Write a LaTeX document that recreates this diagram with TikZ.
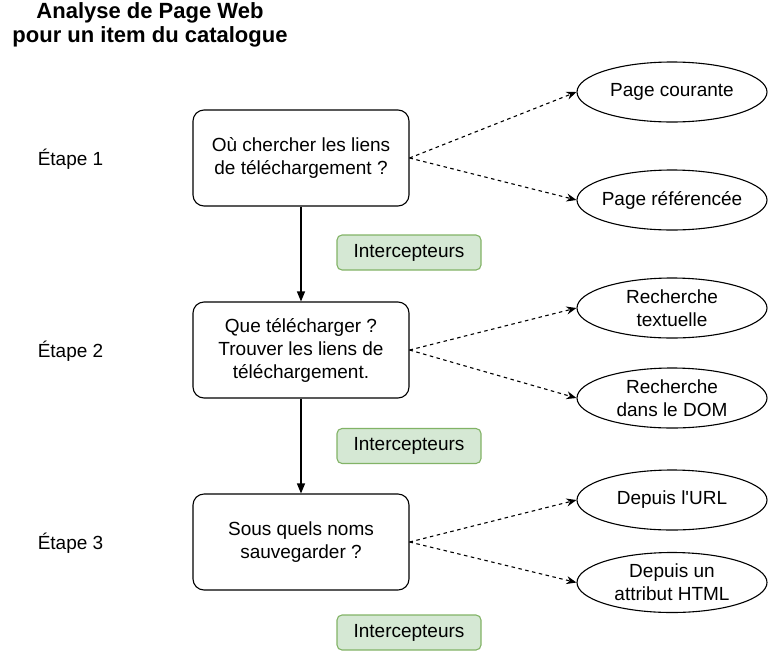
\documentclass[tikz,border=0pt]{standalone}
\usepackage{fontspec}
\setmainfont{Liberation Sans}
\usetikzlibrary{arrows.meta,shapes.geometric}
\definecolor{vertfond}{HTML}{D5E8D4}
\definecolor{vertbord}{HTML}{82B366}

\begin{document}
\begin{tikzpicture}[x=1pt,y=-1pt,line width=1.1pt,
    font=\fontsize{19}{23}\selectfont,
    question/.style={draw,rounded corners=11pt,minimum width=216pt,minimum height=96pt,align=center,inner sep=0pt},
    reponse/.style={draw,ellipse,minimum width=190pt,minimum height=60pt,align=center,inner xsep=-10pt,inner ysep=-8pt},
    intercep/.style={draw=vertbord,fill=vertfond,rounded corners=5pt,minimum width=144pt,minimum height=35pt,inner sep=0pt},
    suite/.style={-{Triangle[length=10pt,width=8pt]}},
    option/.style={dash pattern=on 3.5pt off 3.5pt,-{Stealth[length=10pt,width=8pt]}}]
    \useasboundingbox (0,0) rectangle (770,651);
    \node[anchor=base,font=\fontsize{22}{24}\selectfont\bfseries] (t1) at (150, 18) {Analyse de Page Web};
    \node[anchor=base,font=\fontsize{22}{24}\selectfont\bfseries] (t2) at (150, 42) {pour un item du catalogue};
    \node (s1) at (70.5, 159) {Étape 1};
    \node (s2) at (70.5, 351) {Étape 2};
    \node (s3) at (70.5, 543) {Étape 3};
    \node[question] (q1) at (301, 158) {Où chercher les liens\\de téléchargement ?};
    \node[question] (q2) at (301, 350) {Que télécharger ?\\Trouver les liens de\\téléchargement.};
    \node[question] (q3) at (301, 542) {Sous quels noms\\sauvegarder ?};
    \node[intercep] (i1) at (409, 252.5) {Intercepteurs};
    \node[intercep] (i2) at (409, 446) {Intercepteurs};
    \node[intercep] (i3) at (409, 632.5) {Intercepteurs};
    \node[reponse] (p1) at (672, 92) {Page courante};
    \node[reponse] (p2) at (672, 200) {Page référencée};
    \node[reponse] (p3) at (672, 308) {Recherche\\textuelle};
    \node[reponse] (p4) at (672, 398) {Recherche\\dans le DOM};
    \node[reponse] (p5) at (672, 500) {Depuis l\textquotesingle URL};
    \node[reponse] (p6) at (672, 582.5) {Depuis un\\attribut HTML};
    \draw [suite] (q1.south) to (q2.north);
    \draw [suite] (q2.south) to (q3.north);
    \draw [option] (q1.east) to (p1.west);
    \draw [option] (q1.east) to (p2.west);
    \draw [option] (q2.east) to (p3.west);
    \draw [option] (q2.east) to (p4.west);
    \draw [option] (q3.east) to (p5.west);
    \draw [option] (q3.east) to (p6.west);
  \end{tikzpicture}
\end{document}
